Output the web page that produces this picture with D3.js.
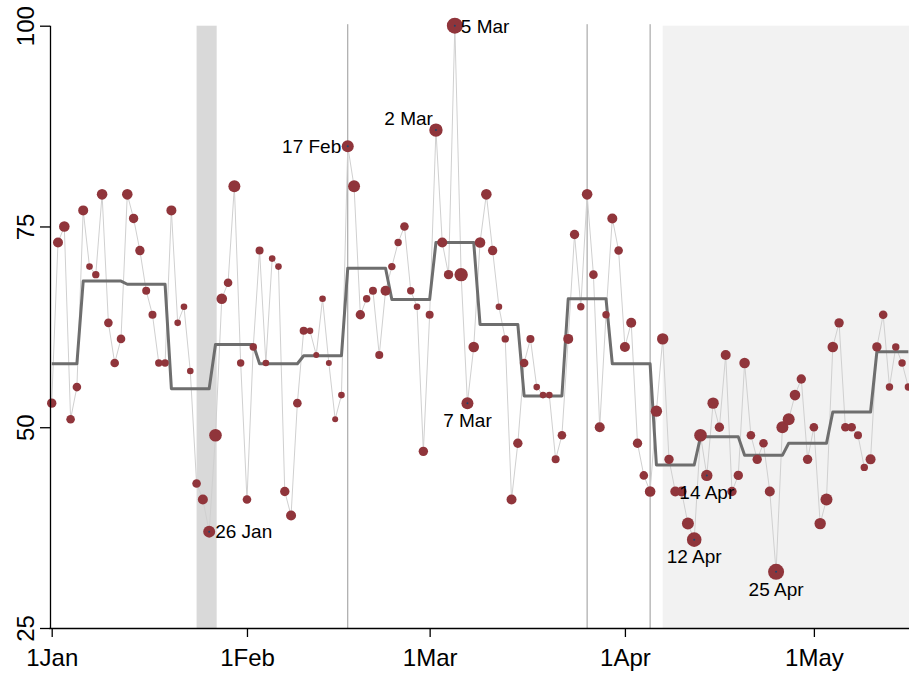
<!DOCTYPE html>
<html>
<head>
<meta charset="utf-8">
<script src="https://cdn.jsdelivr.net/npm/d3@7"></script>
<style>
  html, body { margin: 0; padding: 0; background: #fff; }
  svg { display: block; font-family: "Liberation Sans", Arial, sans-serif; }
</style>
</head>
<body>
<svg id="chart" width="909" height="675"></svg>
<script>
// Daily index values, 1 Jan 2020 onward (one value per day)
const startDate = "2020-01-01";
const dailyValues = [
  53, 73, 75, 51, 55, 77, 70, 69, 79, 63,
  58, 61, 79, 76, 72, 67, 64, 58, 58, 77,
  63, 65, 57, 43, 41, 37, 49, 66, 68, 80,
  58, 41, 60, 72, 58, 71, 70, 42, 39, 53,
  62, 62, 59, 66, 58, 51, 54, 85, 80, 64,
  66, 67, 59, 67, 70, 73, 75, 67, 65, 47,
  64, 87, 73, 69, 100, 69, 53, 60, 73, 79,
  72, 65, 61, 41, 48, 58, 61, 55, 54, 54,
  46, 49, 61, 74, 65, 79, 69, 50, 64, 76,
  72, 60, 63, 48, 44, 42, 52, 61, 46, 42,
  42, 38, 36, 49, 44, 53, 50, 59, 42, 44,
  58, 49, 46, 48, 42, 32, 50, 51, 54, 56,
  46, 50, 38, 41, 60, 63, 50, 50, 49, 45,
  46, 60, 64, 55, 60, 58, 55
];
// Daily weights (number of observations), shown as marker area
const dailyWeights = [
  88, 100, 112, 74, 74, 100, 44, 55, 112, 74,
  74, 74, 112, 88, 88, 64, 64, 55, 55, 100,
  44, 44, 44, 74, 100, 144, 159, 112, 74, 144,
  55, 74, 55, 64, 44, 44, 44, 88, 100, 74,
  64, 44, 36, 44, 36, 36, 44, 144, 144, 88,
  55, 64, 64, 100, 55, 55, 74, 55, 44, 88,
  64, 180, 100, 88, 256, 180, 144, 112, 112, 112,
  88, 44, 55, 100, 88, 74, 64, 44, 44, 44,
  64, 74, 100, 88, 55, 112, 74, 100, 55, 100,
  74, 100, 100, 88, 74, 112, 130, 130, 88, 100,
  100, 144, 213, 159, 130, 130, 88, 100, 88, 88,
  112, 74, 88, 74, 100, 256, 144, 144, 112, 88,
  88, 74, 130, 144, 112, 88, 74, 74, 64, 55,
  100, 88, 74, 55, 55, 55, 55
];
// Weekly (Mon–Sun) averages; first entry is the week ending Sun 5 Jan
const weeklyMeans = [
  57.9, 68.2, 67.8, 54.8, 60.3, 57.9, 58.9, 69.8, 65.9, 73.0,
  62.8, 53.9, 66.0, 57.9, 45.3, 48.8, 46.5, 48.0, 51.9, 59.4
];
// Annotated days
const labelDates = ["2020-01-26", "2020-02-17", "2020-03-02", "2020-03-05", "2020-03-07", "2020-04-12", "2020-04-14", "2020-04-25"];
const labelTexts = ["26 Jan", "17 Feb", "2 Mar", "5 Mar", "7 Mar", "12 Apr", "14 Apr", "25 Apr"];
// Reference events and shaded periods
const eventDates = ["2020-02-17", "2020-03-26", "2020-04-05"];
const darkPeriod = ["2020-01-24", "2020-01-27"];
const lightPeriod = ["2020-04-07", "2020-05-17"];
// Axis ticks
const xTickDates = ["2020-01-01", "2020-02-01", "2020-03-01", "2020-04-01", "2020-05-01"];
const xTickLabels = ["1Jan", "1Feb", "1Mar", "1Apr", "1May"];
const yTicks = [25, 50, 75, 100];

const parse = d3.utcParse("%Y-%m-%d");
const DAY = 864e5;
const t0 = parse(startDate);
const dates = dailyValues.map((_, i) => d3.utcDay.offset(t0, i));
const weekIndex = (dt) => d3.utcMonday.count(d3.utcMonday.floor(t0), dt);
const data = dates.map((dt, i) => ({
  date: dt, value: dailyValues[i], weight: dailyWeights[i],
  week: weeklyMeans[weekIndex(dt)]
}));

const svg = d3.select("#chart");
const x = d3.scaleUtc()
  .domain([new Date(+t0 - 0.27 * DAY), new Date(+dates[dates.length - 1] + 0.1 * DAY)])
  .range([50, 909]);
const y = d3.scaleLinear().domain([25, 100]).range([628, 25.7]);
const r = d3.scaleSqrt().domain([0, 256]).range([0, 8]);

const plot = svg.append("g");
const [yb, yt] = [y(25), y(100)];

// shaded periods
plot.append("rect")
  .attr("x", x(parse(lightPeriod[0]))).attr("y", yt)
  .attr("width", x(parse(lightPeriod[1])) - x(parse(lightPeriod[0])))
  .attr("height", yb - yt).attr("fill", "#f2f2f2");
plot.append("rect")
  .attr("x", x(parse(darkPeriod[0]))).attr("y", yt)
  .attr("width", x(parse(darkPeriod[1])) - x(parse(darkPeriod[0])) + 1.2)
  .attr("height", yb - yt).attr("fill", "#d9d9d9");

// event lines
plot.selectAll("line.event").data(eventDates).join("line")
  .attr("class", "event")
  .attr("x1", d => x(parse(d))).attr("x2", d => x(parse(d)))
  .attr("y1", yt - 1.5).attr("y2", yb)
  .attr("stroke", "#999").attr("stroke-width", 1);

// daily connector
plot.append("path").datum(data)
  .attr("fill", "none").attr("stroke", "#d0d0d0").attr("stroke-width", 1)
  .attr("d", d3.line().x(d => x(d.date)).y(d => y(d.value)));

// weekly average
plot.append("path").datum(data)
  .attr("fill", "none").attr("stroke", "#6e6e6e").attr("stroke-width", 3)
  .attr("stroke-linejoin", "round")
  .attr("d", d3.line().x(d => x(d.date)).y(d => y(d.week)));

// daily markers
plot.selectAll("circle.pt").data(data).join("circle")
  .attr("class", "pt")
  .attr("cx", d => x(d.date)).attr("cy", d => y(d.value))
  .attr("r", d => r(d.weight))
  .attr("fill", "#90353b");

// annotated markers
const labelled = labelDates.map((s, i) => {
  const dt = parse(s);
  const row = data.find(d => +d.date === +dt);
  return { row, text: labelTexts[i] };
});
plot.selectAll("circle.mk").data(labelled).join("circle")
  .attr("class", "mk")
  .attr("cx", d => x(d.row.date)).attr("cy", d => y(d.row.value))
  .attr("r", 1).attr("fill", "#1a476f");

// label placement by clock position
const clock = { "26 Jan": 3, "17 Feb": 9, "2 Mar": 11, "5 Mar": 3, "7 Mar": 6, "12 Apr": 6, "14 Apr": 6, "25 Apr": 6 };
plot.selectAll("text.lab").data(labelled).join("text")
  .attr("class", "lab")
  .attr("font-size", 19).attr("fill", "#000")
  .each(function (d) {
    const px = x(d.row.date), py = y(d.row.value), pos = clock[d.text];
    const t = d3.select(this).text(d.text);
    if (pos === 3) t.attr("x", px + 6).attr("y", py + 6.8).attr("text-anchor", "start");
    else if (pos === 9) t.attr("x", px - 6.5).attr("y", py + 6.8).attr("text-anchor", "end");
    else if (pos === 11) t.attr("x", px - 3).attr("y", py - 5).attr("text-anchor", "end");
    else t.attr("x", px).attr("y", py + 23.8).attr("text-anchor", "middle");
  });

// axes
const xAxis = svg.append("g").attr("transform", `translate(0,${yb})`)
  .call(d3.axisBottom(x).tickValues(xTickDates.map(parse))
    .tickFormat((d, i) => xTickLabels[i]).tickSize(9).tickSizeOuter(0));
xAxis.select(".domain").attr("stroke", "#000").attr("stroke-width", 1.3)
  .attr("d", `M49.4,0.5H909`);
xAxis.selectAll(".tick line").attr("stroke", "#000").attr("stroke-width", 1.3);
xAxis.selectAll(".tick text").attr("font-size", 24).attr("fill", "#000")
  .attr("font-family", "Liberation Sans, Arial, sans-serif").attr("dy", 0).attr("y", 38);

const yAxis = svg.append("g").attr("transform", "translate(50,0)")
  .call(d3.axisLeft(y).tickValues(yTicks).tickSize(10).tickSizeOuter(0));
yAxis.select(".domain").attr("stroke", "#000").attr("stroke-width", 1.3)
  .attr("d", `M0.5,${yt}V${yb + 0.5}`);
yAxis.selectAll(".tick line").attr("stroke", "#000").attr("stroke-width", 1.3);
yAxis.selectAll(".tick text").attr("font-size", 24).attr("fill", "#000")
  .attr("font-family", "Liberation Sans, Arial, sans-serif")
  .attr("text-anchor", "middle").attr("dy", 0)
  .attr("transform", "rotate(-90)")
  .attr("x", 0).attr("y", -16);
</script>
</body>
</html>
